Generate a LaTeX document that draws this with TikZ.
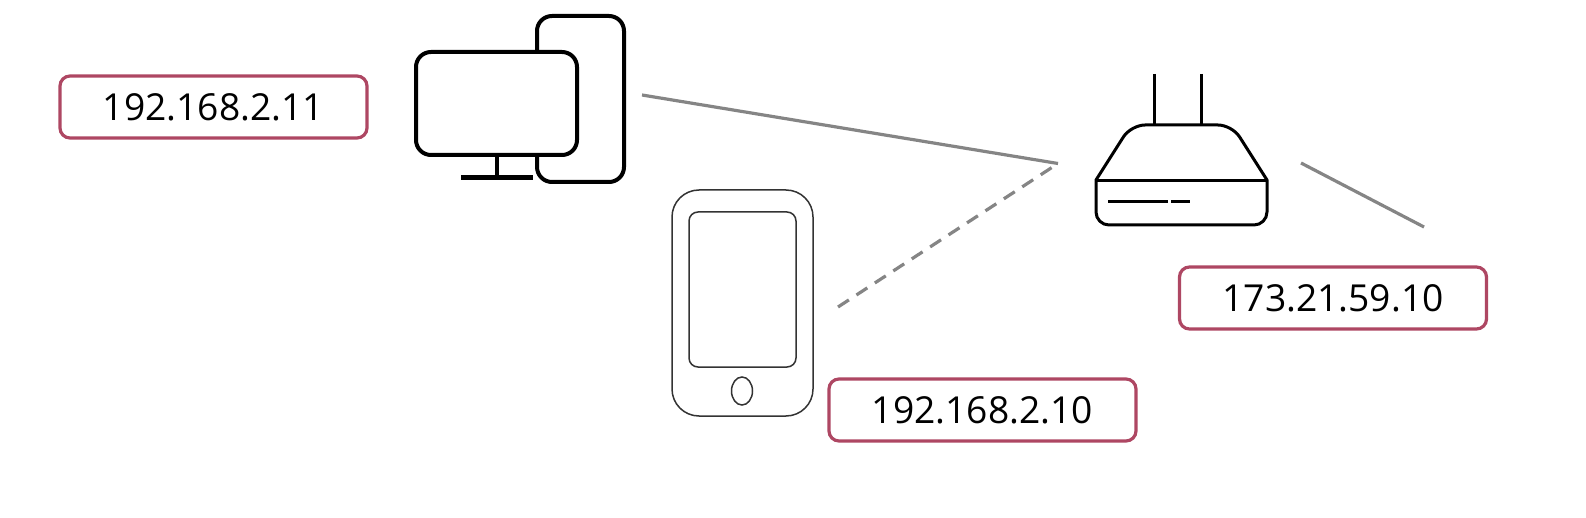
\documentclass[tikz,border=0pt]{standalone}
\usepackage{fontspec}
\setmainfont{Open Sans}
\definecolor{boxred}{HTML}{AE4763}
\definecolor{wire}{HTML}{858585}
\newcommand{\iptext}[1]{\raisebox{-1pt}{#1}}
\tikzset{
  ipbox/.style={draw=boxred,line width=3.2pt,rounded corners=10pt,fill=white,minimum width=307pt,minimum height=62pt,inner sep=0pt,text=black,font=\fontsize{37.2}{40}\selectfont},
  heavy/.style={draw=black,line width=4pt,rounded corners=15pt,fill=white},
  router/.style={draw=black,line width=3pt},
  phone/.style={draw=black!80,line width=1.5pt,fill=white},
  wireline/.style={draw=wire,line width=3.2pt},
}
\begin{document}
\begin{tikzpicture}[x=1pt,y=-1pt]
\useasboundingbox (0,0) rectangle (1586,518);
% computer
\draw[heavy] (537,16) rectangle (624,182);
\draw[heavy] (416,52) rectangle (577,155);
\draw[draw=black,line width=4pt] (497,155) -- (497,177);
\draw[draw=black,line width=5pt] (461,177.5) -- (533,177.5);
% phone
\draw[phone,rounded corners=27pt] (672,190) rectangle (813,416);
\draw[phone,rounded corners=9pt] (689,212) rectangle (796,367);
\draw[phone] (742,391) ellipse [x radius=10.5,y radius=14];
% router
\draw[router] (1154,74) -- (1154,125);
\draw[router] (1201,74) -- (1201,125);
\draw[router,line join=round] (1096,180) [rounded corners=13pt] -- (1096,225) -- (1267,225) [sharp corners] -- (1267,180) [rounded corners=14pt] -- (1232,125) -- (1131,125) [sharp corners] -- cycle;
\draw[router] (1096,180.5) -- (1267,180.5);
\draw[router] (1108,202) -- (1168,202);
\draw[router] (1171,202) -- (1190,202);
% connectors
\coordinate (pcend) at (642,95);
\coordinate (hub) at (1058,163.5);
\coordinate (phoneend) at (838,307);
\coordinate (wanstart) at (1301,163);
\coordinate (wanend) at (1424,227);
\draw[wireline] (pcend) -- (hub);
\draw[wireline,dash pattern=on 13pt off 9pt] (phoneend) -- (hub);
\draw[wireline] (wanstart) -- (wanend);
% labels
\node[ipbox] (ippc) at (213.5,107) {\iptext{192.168.2.11}};
\node[ipbox] (ipphone) at (982.5,410) {\iptext{192.168.2.10}};
\node[ipbox] (ipwan) at (1333,298) {\iptext{173.21.59.10}};
\end{tikzpicture}
\end{document}
